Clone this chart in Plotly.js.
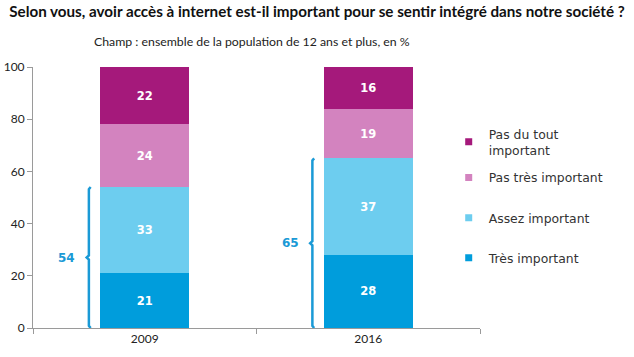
<!DOCTYPE html>
<html><head><meta charset="utf-8">
<script src="https://cdn.plot.ly/plotly-3.0.1.min.js"></script>
<style>html,body{margin:0;padding:0;background:#fff}#chart{width:634px;height:357px}</style>
</head><body><div id="chart"></div>
<script>
const years = ["2009", "2016"];
const seriesNames = ["Très important", "Assez important", "Pas très important", "Pas du tout<br>important"];
const tresImportant = [21, 28];
const assezImportant = [33, 37];
const pasTresImportant = [24, 19];
const pasDuToutImportant = [22, 16];
const colors = ["#009ddc", "#6dcdef", "#d383bf", "#a5197b"];
const yTicks = [0, 20, 40, 60, 80, 100];

const seriesValues = [tresImportant, assezImportant, pasTresImportant, pasDuToutImportant];
const legendIds = ["legend", "legend", "legend", "legend2"];
const traces = [];
seriesValues.forEach((vals, i) => {
  traces.push({
    type: "bar", x: years, y: vals, name: seriesNames[i],
    marker: {color: colors[i], line: {width: 0}},
    text: vals.map(String), textposition: "inside", insidetextanchor: "middle",
    textfont: {family: "DejaVu Sans", size: 11.5, color: "#ffffff", weight: "bold"},
    showlegend: false, hoverinfo: "skip", width: 0.4
  });
});
// legend entries (small squares), top of stack first
for (let i = seriesValues.length - 1; i >= 0; i--) {
  traces.push({
    type: "scatter", mode: "markers", x: [null], y: [null], name: seriesNames[i],
    marker: {symbol: "square", size: 7, color: colors[i]},
    legendgroup: "g" + i, legend: legendIds[i], showlegend: true, hoverinfo: "skip"
  });
}
// brackets for "important" total (Très + Assez)
const bracketColor = "#1a9ad6";
const bx = -0.25;
const annotations = [];
years.forEach((yr, j) => {
  const top = tresImportant[j] + assezImportant[j];
  const mid = top / 2;
  const xc = j + bx;
  traces.push({
    type: "scatter", mode: "lines", xaxis: "x2", yaxis: "y",
    x: [xc + 0.008, xc, xc, xc - 0.01, xc, xc, xc + 0.008],
    y: [0, 0.8, mid - 0.8, mid, mid + 0.8, top - 0.8, top],
    line: {color: bracketColor, width: 2.5},
    showlegend: false, hoverinfo: "skip"
  });
  annotations.push({
    xref: "x2", yref: "y", x: j - 0.348, y: mid, text: String(top), showarrow: false,
    font: {family: "DejaVu Sans", size: 12, color: bracketColor, weight: "bold"},
    xanchor: "center", yanchor: "middle"
  });
});
annotations.push({
  xref: "paper", yref: "paper", x: 0.49, y: 1.096, xanchor: "center", yanchor: "middle",
  text: "Champ : ensemble de la population de 12 ans et plus, en %", showarrow: false,
  font: {family: "Lato", size: 12.3, color: "#222"}
});

const legendFont = {family: "DejaVu Sans", size: 12.4, color: "#333"};
const layout = {
  width: 634, height: 357,
  margin: {l: 33, r: 154, t: 67, b: 29},
  paper_bgcolor: "#fff", plot_bgcolor: "#fff",
  barmode: "stack",
  title: {
    text: "<b>Selon vous, avoir accès à internet est-il important pour se sentir intégré dans notre société ?</b>",
    xref: "container", yref: "container", x: 0.5, xanchor: "center", y: 0.968, yanchor: "middle",
    font: {family: "Lato", size: 15.2, color: "#111"}
  },
  xaxis: {
    type: "category", showgrid: false, zeroline: false,
    showline: true, linecolor: "#9a9a9a", linewidth: 1,
    ticks: "outside", tickson: "boundaries", ticklen: 5, tickcolor: "#9a9a9a",
    tickfont: {family: "Lato", size: 12, color: "#222"}, fixedrange: true
  },
  xaxis2: {overlaying: "x", range: [-0.5, 1.5], visible: false, fixedrange: true},
  yaxis: {
    range: [0, 100], tickvals: yTicks, showgrid: false, zeroline: false,
    showline: true, linecolor: "#9a9a9a", linewidth: 1,
    ticks: "outside", ticklen: 5, tickcolor: "#9a9a9a",
    tickfont: {family: "Lato", size: 12, color: "#222"}, fixedrange: true
  },
  legend: {
    x: 0.93, xanchor: "left", y: 0.632, yanchor: "top",
    traceorder: "grouped", tracegroupgap: 21, itemwidth: 30,
    font: legendFont, bgcolor: "rgba(0,0,0,0)"
  },
  legend2: {
    x: 0.93, xanchor: "left", y: 0.80, yanchor: "top",
    itemwidth: 30, font: legendFont, bgcolor: "rgba(0,0,0,0)"
  },
  annotations: annotations,
  showlegend: true
};
Plotly.newPlot("chart", traces, layout, {displayModeBar: false, staticPlot: true});
</script></body></html>
